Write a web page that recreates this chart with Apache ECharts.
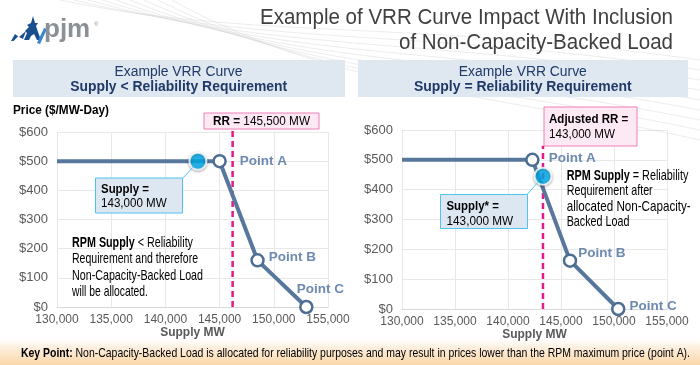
<!DOCTYPE html>
<html>
<head>
<meta charset="utf-8">
<script src="https://cdn.jsdelivr.net/npm/echarts@6/dist/echarts.min.js"></script>
<style>
html,body{margin:0;padding:0;background:#fff;}
#c{width:700px;height:365px;}
</style>
</head>
<body>
<div id="c"></div>
<script>
// ---- data ----
const titleLines = ['Example of VRR Curve Impact With Inclusion', 'of Non-Capacity-Backed Load'];
const panelTitles = ['Example VRR Curve', 'Example VRR Curve'];
const panelSubtitles = ['Supply < Reliability Requirement', 'Supply = Reliability Requirement'];
const pointNames = ['', 'Point A', 'Point B', 'Point C'];
const leftCurveMW = [130000, 145000, 148500, 153000];
const leftCurvePrice = [500, 500, 160, 0];
const rightCurveMW = [130000, 142300, 145850, 150400];
const rightCurvePrice = [500, 500, 162, 0];
const leftSupply = [143000, 500];
const rightSupply = [143300, 445];
const leftRR = 146200;     // drawn position of RR line
const rightRR = 143300;    // drawn position of adjusted RR line
const leftRRTop = 610;
const rightRRTop = 547;
const xMin = 130000, xMax = 155000, xStep = 5000;
const yMin = 0, yMax = 600, yStep = 100;

const SANS = '"Liberation Sans",Arial,sans-serif';
const lineColor = '#57779c';
const labelColor = '#6d8ab0';

const chart = echarts.init(document.getElementById('c'), null, {renderer: 'canvas'});

function curveData(xs, ys, labelCfg) {
  return xs.map((x, i) => {
    const d = {value: [x, ys[i]], name: pointNames[i]};
    if (i === 0) { d.symbol = 'none'; d.label = {show: false}; }
    else d.label = Object.assign({show: true, formatter: pointNames[i]}, labelCfg[i]);
    return d;
  });
}
const lblBase = {color: labelColor, fontWeight: 'bold', fontSize: 13.5, fontFamily: SANS};
const leftLabelCfg = [null,
  Object.assign({position: 'right', distance: 13}, lblBase),
  Object.assign({position: 'right', distance: 4, offset: [0, -3]}, lblBase),
  Object.assign({position: 'top', distance: 6, offset: [14, 3]}, lblBase)];
const rightLabelCfg = [null,
  Object.assign({position: 'right', distance: 9, offset: [0, -2]}, lblBase),
  Object.assign({position: 'right', distance: 1, offset: [0, -7]}, lblBase),
  Object.assign({position: 'right', distance: 4, offset: [0, -3]}, lblBase)];

function xAxis(idx) {
  return {
    type: 'value', gridIndex: idx, min: xMin, max: xMax, interval: xStep,
    name: 'Supply MW', nameLocation: 'middle', nameGap: 20,
    nameTextStyle: {color: '#595959', fontWeight: 'bold', fontSize: 12, fontFamily: SANS},
    axisLine: {show: true, lineStyle: {color: '#d9d9d9', width: 1}},
    axisTick: {show: false},
    axisLabel: {color: '#595959', fontSize: 12, fontFamily: SANS, margin: 7,
      formatter: v => v.toLocaleString('en-US'), showMinLabel: true, showMaxLabel: true},
    splitLine: {show: true, lineStyle: {color: '#e8e8e8', width: 1}}
  };
}
function yAxis(idx) {
  return {
    type: 'value', gridIndex: idx, min: yMin, max: yMax, interval: yStep,
    axisLine: {show: false}, axisTick: {show: false},
    axisLabel: {color: '#595959', fontSize: 13, fontFamily: SANS, margin: 9, formatter: v => '$' + v},
    splitLine: {show: true, lineStyle: {color: '#e8e8e8', width: 1}}
  };
}

function curveSeries(idx, xs, ys, cfg) {
  return {
    type: 'line', xAxisIndex: idx, yAxisIndex: idx, z: 3,
    data: curveData(xs, ys, cfg),
    lineStyle: {color: lineColor, width: 4},
    symbol: 'circle', symbolSize: 12, showAllSymbol: true,
    itemStyle: {color: '#fff', borderColor: '#4d6d93', borderWidth: 2.5},
    emphasis: {disabled: true}, animation: false
  };
}
function rrSeries(idx, x, top) {
  return {
    type: 'line', xAxisIndex: idx, yAxisIndex: idx, z: 2, clip: false,
    data: [[x, 0], [x, top]], symbol: 'none',
    lineStyle: {color: '#e5198a', width: 2.5, type: [6, 4]},
    emphasis: {disabled: true}, animation: false
  };
}
function supplySeries(idx, pt) {
  return {
    type: 'scatter', xAxisIndex: idx, yAxisIndex: idx, z: 5,
    data: [pt], symbolSize: 17,
    itemStyle: {color: '#00aeef', borderColor: '#fff', borderWidth: 2,
      shadowColor: 'rgba(0,0,0,0.35)', shadowBlur: 3, shadowOffsetY: 1},
    emphasis: {disabled: true}, animation: false
  };
}

const option = {
  animation: false,
  grid: [
    {left: 57, right: 372, top: 132, bottom: 58},
    {left: 402, right: 33, top: 130, bottom: 56}
  ],
  xAxis: [xAxis(0), xAxis(1)],
  yAxis: [yAxis(0), yAxis(1)],
  series: [
    rrSeries(0, leftRR, leftRRTop),
    curveSeries(0, leftCurveMW, leftCurvePrice, leftLabelCfg),
    supplySeries(0, leftSupply),
    rrSeries(1, rightRR, rightRRTop),
    curveSeries(1, rightCurveMW, rightCurvePrice, rightLabelCfg),
    supplySeries(1, rightSupply)
  ]
};
chart.setOption(option);

const lp = chart.convertToPixel({gridIndex: 0}, leftSupply);
const rp = chart.convertToPixel({gridIndex: 1}, rightSupply);

// text measuring to fit the reference's (horizontally compressed) text widths
const mctx = document.createElement('canvas').getContext('2d');
function measure(text, size, bold) {
  let w = 0;
  const re = /\{b\|([^}]*)\}|([^{]+)/g;
  let m;
  while ((m = re.exec(text)) !== null) {
    const isB = m[1] !== undefined || bold;
    mctx.font = (isB ? 'bold ' : '') + size + 'px ' + SANS;
    w += mctx.measureText(m[1] !== undefined ? m[1] : m[2]).width;
  }
  return w;
}
function ftxt(x, y, text, size, target, opt) {
  opt = opt || {};
  const bold = !!opt.bold;
  const sx = target ? Math.min(1.15, target / measure(text, size, bold)) : 1;
  return {type: 'text', x: x, y: y, z: 20, silent: true, scaleX: sx,
    style: {text: text, fill: opt.fill || '#000', font: (bold ? 'bold ' : '') + size + 'px ' + SANS,
      align: opt.align || 'left', verticalAlign: 'middle',
      rich: {b: {fontWeight: 'bold', fontFamily: SANS, fontSize: size, fill: opt.fill || '#000'}}}};
}

// faint decorative swirls
const swirls = [];
for (let i = 0; i < 9; i++) {
  swirls.push({type: 'bezierCurve', z: 0, silent: true,
    shape: {x1: 60 + i * 14, y1: 0, cpx1: 250 + i * 10, cpy1: 40 + i * 6, cpx2: 420 + i * 8, cpy2: 20 + i * 9, x2: 700, y2: 60 + i * 10},
    style: {stroke: 'rgba(200,200,200,0.35)', lineWidth: 1, fill: null}});
}

const graphics = swirls.concat([
  // bottom key point bar
  {type: 'rect', shape: {x: 0, y: 339, width: 700, height: 26}, z: 0, silent: true,
    style: {fill: new echarts.graphic.LinearGradient(0, 0, 0, 1, [
      {offset: 0, color: 'rgba(255,255,255,1)'}, {offset: 0.35, color: '#fdeedd'}, {offset: 1, color: '#fbd7a8'}])}},
  ftxt(21, 353, '{b|Key Point:} Non-Capacity-Backed Load is allocated for reliability purposes and may result in prices lower than the RPM maximum price (point A).', 13.5, 669),
  // title
  ftxt(673, 18, titleLines[0], 22, 413, {fill: '#404040', align: 'right'}),
  ftxt(673, 43, titleLines[1], 22, 274, {fill: '#404040', align: 'right'}),
  // logo
  {type: 'polygon', z: 10, silent: true,
    shape: {points: [[33,16],[35,23],[38,23],[36,26],[38,32],[41,40],[37,40],[34,34],[31,36],[29,40],[24,40],[27,33],[25,31],[29,27],[27,25],[31,23]]},
    style: {fill: '#1a4f8f'}},
  {type: 'polygon', z: 10, silent: true,
    shape: {points: [[11,41],[15,34],[19,37],[26,31],[23,39],[18,36.5],[13.5,41]]}, style: {fill: '#1a4f8f'}},
  {type: 'polygon', z: 10, silent: true, shape: {points: [[37,43],[44,28],[47,29],[40,44]]}, style: {fill: '#3a86cf'}},
  {type: 'text', x: 44, y: 30, z: 10, silent: true, style: {text: 'pjm', font: 'bold 26px ' + SANS, fill: '#8b9097', verticalAlign: 'middle'}},
  {type: 'text', x: 94, y: 24, z: 10, silent: true, style: {text: '®', font: '6px ' + SANS, fill: '#8b9097', verticalAlign: 'middle'}},
  // panel headers
  {type: 'rect', shape: {x: 13, y: 60, width: 332, height: 37}, z: 1, silent: true, style: {fill: '#dfe7f1'}},
  {type: 'rect', shape: {x: 358, y: 60, width: 330, height: 37}, z: 1, silent: true, style: {fill: '#dfe7f1'}},
  ftxt(178.5, 72, panelTitles[0], 14, 128, {fill: '#1f3a68', align: 'center'}),
  ftxt(178.7, 87, panelSubtitles[0], 14, 217, {fill: '#1f3a68', align: 'center', bold: true}),
  ftxt(522.8, 72, panelTitles[1], 14, 128, {fill: '#1f3a68', align: 'center'}),
  ftxt(522.8, 87, panelSubtitles[1], 14, 217.7, {fill: '#1f3a68', align: 'center', bold: true}),
  // y axis title
  ftxt(13, 111, 'Price ($/MW-Day)', 12, 96, {bold: true}),
  // RR boxes
  {type: 'rect', shape: {x: 204, y: 113, width: 115, height: 16}, z: 15, silent: true, style: {fill: '#fde9f3', stroke: '#ee7fb8', lineWidth: 1}},
  ftxt(261.5, 121.5, '{b|RR =} 145,500 MW', 13, 97, {align: 'center'}),
  {type: 'rect', shape: {x: 544, y: 107, width: 93, height: 39}, z: 15, silent: true, style: {fill: '#fde9f3', stroke: '#ee7fb8', lineWidth: 1}},
  ftxt(549, 119, '{b|Adjusted RR =}', 13, 79.3),
  ftxt(549, 134, '143,000 MW', 13, 66),
  // supply boxes
  {type: 'line', z: 14, silent: true, shape: {x1: 183, y1: 178, x2: lp[0] - 5, y2: lp[1] + 6}, style: {stroke: '#4fc3f0', lineWidth: 1}},
  {type: 'rect', shape: {x: 95.5, y: 178, width: 87, height: 35}, z: 15, silent: true, style: {fill: '#dde7f2', stroke: '#4fc3f0', lineWidth: 1}},
  ftxt(101, 189, '{b|Supply =}', 13, 48),
  ftxt(101, 203.5, '143,000 MW', 13, 65.7),
  {type: 'line', z: 14, silent: true, shape: {x1: 527, y1: 194.5, x2: rp[0] - 5, y2: rp[1] + 6}, style: {stroke: '#4fc3f0', lineWidth: 1}},
  {type: 'rect', shape: {x: 440.5, y: 194.5, width: 87, height: 34}, z: 15, silent: true, style: {fill: '#dde7f2', stroke: '#4fc3f0', lineWidth: 1}},
  ftxt(446.5, 206, '{b|Supply* =}', 13, 52.3),
  ftxt(446.5, 221, '143,000 MW', 13, 66.7),
  // annotations
  ftxt(72, 243, '{b|RPM Supply} < Reliability', 15, 121),
  ftxt(72, 259, 'Requirement and therefore', 15, 126),
  ftxt(72, 275.5, 'Non-Capacity-Backed Load', 15, 131),
  ftxt(72, 291.5, 'will be allocated.', 15, 76),
  ftxt(566.7, 176, '{b|RPM Supply} = Reliability', 14.5, 121.7),
  ftxt(566.7, 191, 'Requirement after', 14.5, 86),
  ftxt(566.7, 206.5, 'allocated Non-Capacity-', 14.5, 124),
  ftxt(566.7, 222, 'Backed Load', 14.5, 62.7)
]);
chart.setOption({graphic: graphics});
</script>
</body>
</html>
